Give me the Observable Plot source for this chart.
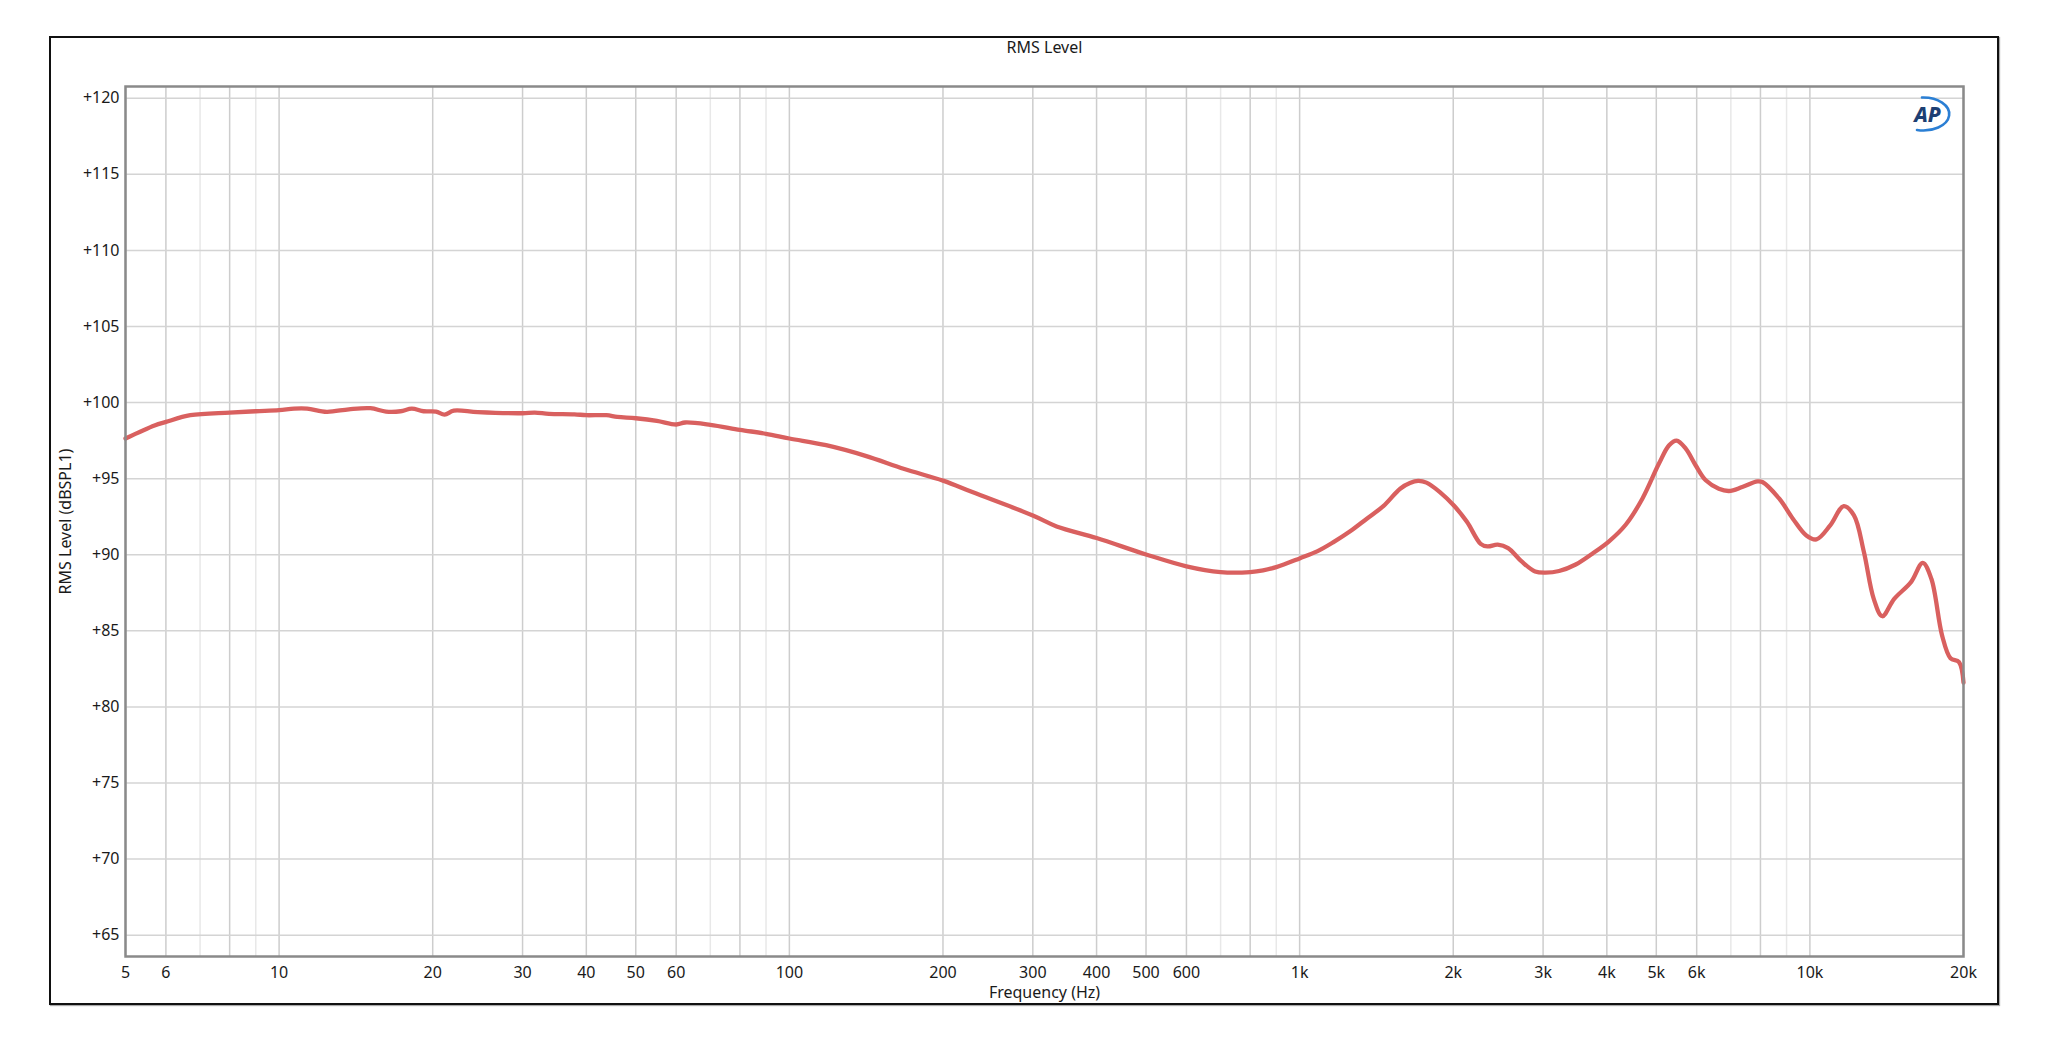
<!DOCTYPE html>
<html><head><meta charset="utf-8">
<script src="https://cdn.jsdelivr.net/npm/d3@7"></script>
<script src="https://cdn.jsdelivr.net/npm/@observablehq/plot@0.6"></script>
<style>
html,body{margin:0;padding:0;background:#fff;}
#wrap{position:relative;width:2048px;height:1041px;}
#frame{position:absolute;left:49px;top:36px;width:1950px;height:969px;box-sizing:border-box;border:2px solid #111;box-shadow:1px 1px 1px #aaa;pointer-events:none;}
svg{display:block}
</style></head><body><div id="wrap"><div id="chart"></div><div id="frame"></div></div>
<script>
const frequencies = [5, 5.7, 6, 6.7, 8, 9, 10, 10.7, 11.35, 12.4, 13.7, 15.1, 16.2, 17.3, 18.2, 19.2, 20.3, 21.1, 22, 24.5, 30, 31.7, 33.8, 37.9, 40, 43.8, 46, 50, 55, 60, 62.5, 70, 80, 90, 100, 118, 141, 168, 200, 229, 300, 334, 400, 500, 600, 700, 800, 848, 900, 1000, 1082, 1165, 1256, 1354, 1459, 1574, 1645, 1707, 1772, 1883, 2010, 2129, 2263, 2334, 2445, 2562, 2723, 2894, 3034, 3225, 3476, 3747, 4040, 4355, 4695, 5061, 5298, 5480, 5711, 5970, 6250, 6630, 6940, 7370, 7890, 8070, 8710, 9260, 9840, 10300, 10960, 11650, 12200, 12760, 13340, 13860, 14630, 15780, 16640, 17300, 18160, 18860, 19600, 20000];
const levels = [97.64, 98.5, 98.73, 99.17, 99.34, 99.43, 99.5, 99.6, 99.6, 99.39, 99.56, 99.63, 99.41, 99.43, 99.6, 99.43, 99.41, 99.21, 99.47, 99.37, 99.3, 99.34, 99.26, 99.23, 99.17, 99.17, 99.06, 98.97, 98.8, 98.56, 98.69, 98.54, 98.21, 97.95, 97.64, 97.2, 96.5, 95.63, 94.87, 94.1, 92.58, 91.86, 91.1, 90.02, 89.24, 88.86, 88.86, 88.97, 89.19, 89.76, 90.22, 90.83, 91.54, 92.37, 93.2, 94.34, 94.71, 94.85, 94.74, 94.12, 93.2, 92.15, 90.72, 90.55, 90.66, 90.44, 89.56, 88.9, 88.82, 88.93, 89.36, 90.07, 90.88, 91.97, 93.68, 95.99, 97.19, 97.5, 96.97, 95.88, 94.89, 94.34, 94.19, 94.45, 94.82, 94.78, 93.68, 92.37, 91.27, 91.01, 91.93, 93.2, 92.59, 90.18, 87.1, 85.96, 87.1, 88.2, 89.47, 88.42, 84.69, 83.2, 82.94, 81.6];
const xTicks = [5, 6, 8, 10, 20, 30, 40, 50, 60, 80, 100, 200, 300, 400, 500, 600, 800, 1000, 2000, 3000, 4000, 5000, 6000, 8000, 10000, 20000];
const xMinorGrid = [7, 9, 70, 90, 700, 900, 7000, 9000];
const yTicks = [65, 70, 75, 80, 85, 90, 95, 100, 105, 110, 115, 120];
const titleText = "RMS Level";
const xLabel = "Frequency (Hz)";
const yLabel = "RMS Level (dBSPL1)";
const logoText = "AP";

const data = frequencies.map((f, i) => ({f, v: levels[i]}));
const fmtX = d => d >= 1000 ? (d / 1000) + "k" : String(d);
const fmtY = d => "+" + d;

const chart = Plot.plot({
  width: 2048, height: 1041,
  marginLeft: 125, marginRight: 85, marginTop: 86, marginBottom: 85,
  style: {fontFamily: "'Noto Sans', sans-serif", fontSize: "16px", color: "#1a1a1a", background: "#fff"},
  x: {type: "log", domain: [5, 20000], label: null},
  y: {domain: [63.6, 120.77], label: null},
  marks: [
    Plot.gridX(xMinorGrid, {stroke: "#e8e8e8", strokeOpacity: 1, strokeWidth: 1.5}),
    Plot.gridX(xTicks, {stroke: "#cdcdcd", strokeOpacity: 1, strokeWidth: 1.5}),
    Plot.gridY(yTicks, {stroke: "#d4d4d4", strokeOpacity: 1, strokeWidth: 1.5}),
    Plot.axisX(xTicks, {tickSize: 0, tickPadding: 10, tickFormat: fmtX, label: null}),
    Plot.axisY(yTicks, {tickSize: 0, tickPadding: 6, tickFormat: fmtY, label: null}),
    Plot.line(data, {x: "f", y: "v", stroke: "#d9605f", strokeWidth: 4.3, curve: "catmull-rom"}),
    Plot.frame({stroke: "#8a8a8a", strokeWidth: 2.5}),
    Plot.text([titleText], {frameAnchor: "top", lineAnchor: "middle", dy: -39, text: d => d, fill: "#1a1a1a"}),
    Plot.text([xLabel], {frameAnchor: "bottom", lineAnchor: "middle", dy: 36, text: d => d, fill: "#1a1a1a"}),
    Plot.text([yLabel], {frameAnchor: "left", textAnchor: "middle", lineAnchor: "middle", dx: -60, rotate: -90, text: d => d, fill: "#1a1a1a"}),
    Plot.text([logoText], {frameAnchor: "top-right", textAnchor: "middle", lineAnchor: "middle", dx: -36, dy: 29, text: d => d, fontStyle: "italic", fontWeight: 800, fontSize: 21, fill: "#1d3f73"})
  ]
});
document.getElementById("chart").appendChild(chart);
// logo swoosh
d3.select(chart).append("path")
  .attr("d", "M1922,97.5 A26 16.5 0 1 1 1917,130")
  .attr("fill", "none").attr("stroke", "#2b7fd4").attr("stroke-width", 2.6).attr("stroke-linecap", "round");
</script></body></html>
